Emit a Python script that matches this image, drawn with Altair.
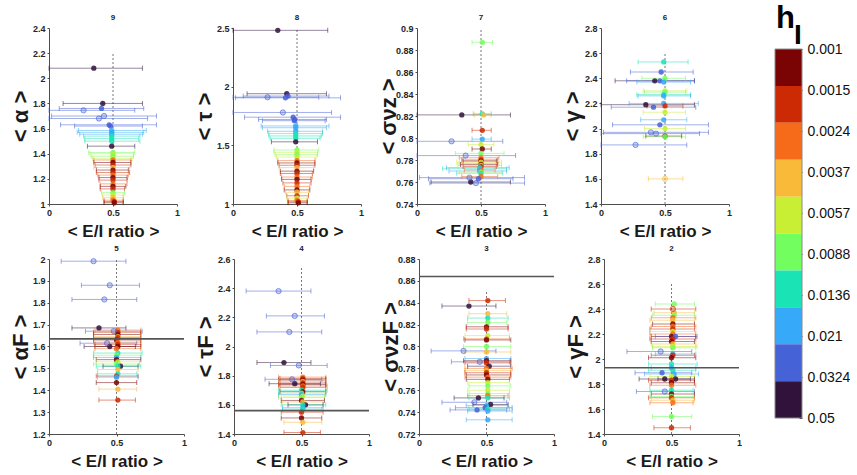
import json
import altair as alt
import pandas as pd

FONT = "Liberation Sans"

H_LABELS = ["0.001", "0.0015", "0.0024", "0.0037", "0.0057",
            "0.0088", "0.0136", "0.021", "0.0324", "0.05"]
H_COLORS = ["#7a0403", "#cb2a04", "#f66b19", "#faba39", "#c8ef34",
            "#72fe5e", "#1ae4b6", "#36aaf9", "#4662d7", "#30123b"]

# rows: (y value, mean E/I ratio, lower E/I, upper E/I, h_I index, open marker)
P9 = [
    (2.08, 0.35, 0.00, 0.73, 9, 0), (1.80, 0.42, 0.11, 0.73, 9, 0),
    (1.76, 0.41, 0.08, 0.74, 8, 0), (1.745, 0.27, 0.00, 0.67, 8, 1),
    (1.70, 0.43, 0.02, 0.84, 8, 1), (1.68, 0.39, 0.00, 0.77, 8, 1),
    (1.63, 0.47, 0.09, 0.84, 8, 0), (1.62, 0.48, 0.20, 0.73, 8, 0),
    (1.585, 0.49, 0.23, 0.76, 7, 0), (1.57, 0.49, 0.22, 0.74, 7, 0),
    (1.555, 0.49, 0.24, 0.73, 7, 0), (1.54, 0.49, 0.27, 0.71, 6, 0),
    (1.52, 0.49, 0.28, 0.70, 6, 0), (1.50, 0.49, 0.28, 0.71, 6, 0),
    (1.46, 0.49, 0.30, 0.67, 9, 0), (1.41, 0.50, 0.31, 0.67, 5, 0),
    (1.40, 0.50, 0.32, 0.66, 4, 0), (1.38, 0.50, 0.33, 0.66, 5, 0),
    (1.36, 0.50, 0.34, 0.65, 4, 0), (1.35, 0.50, 0.35, 0.64, 2, 0),
    (1.33, 0.50, 0.35, 0.64, 0, 0), (1.31, 0.50, 0.36, 0.64, 1, 0),
    (1.29, 0.50, 0.35, 0.63, 3, 0), (1.27, 0.50, 0.37, 0.62, 0, 0),
    (1.25, 0.50, 0.37, 0.63, 1, 0), (1.23, 0.50, 0.38, 0.62, 2, 0),
    (1.21, 0.50, 0.39, 0.61, 0, 0), (1.19, 0.50, 0.39, 0.61, 1, 0),
    (1.16, 0.50, 0.40, 0.61, 2, 0), (1.14, 0.50, 0.40, 0.60, 0, 0),
    (1.12, 0.50, 0.40, 0.59, 1, 0), (1.09, 0.50, 0.41, 0.59, 5, 0),
    (1.07, 0.50, 0.42, 0.58, 4, 0), (1.05, 0.50, 0.42, 0.58, 3, 0),
    (1.03, 0.50, 0.43, 0.58, 2, 0), (1.02, 0.51, 0.43, 0.58, 1, 0),
    (1.01, 0.51, 0.43, 0.58, 0, 0),
]
P8 = [
    (2.48, 0.35, 0.00, 0.74, 9, 0), (1.94, 0.42, 0.11, 0.73, 9, 0),
    (1.92, 0.43, 0.08, 0.75, 8, 0), (1.91, 0.27, 0.00, 0.67, 8, 1),
    (1.905, 0.41, 0.02, 0.84, 8, 0), (1.78, 0.39, 0.00, 0.77, 8, 1),
    (1.74, 0.47, 0.09, 0.84, 8, 0), (1.72, 0.48, 0.20, 0.73, 8, 0),
    (1.71, 0.48, 0.23, 0.72, 8, 0), (1.665, 0.49, 0.22, 0.75, 7, 0),
    (1.65, 0.49, 0.23, 0.73, 7, 0), (1.62, 0.49, 0.27, 0.70, 7, 0),
    (1.60, 0.49, 0.28, 0.70, 6, 0), (1.58, 0.49, 0.28, 0.69, 6, 0),
    (1.56, 0.49, 0.29, 0.68, 6, 0), (1.53, 0.49, 0.30, 0.66, 9, 0),
    (1.46, 0.50, 0.32, 0.67, 5, 0), (1.44, 0.50, 0.32, 0.66, 4, 0),
    (1.42, 0.50, 0.33, 0.66, 5, 0), (1.40, 0.50, 0.34, 0.65, 4, 0),
    (1.37, 0.50, 0.35, 0.64, 2, 0), (1.35, 0.50, 0.35, 0.64, 0, 0),
    (1.33, 0.50, 0.36, 0.64, 1, 0), (1.31, 0.50, 0.36, 0.63, 3, 0),
    (1.28, 0.50, 0.37, 0.63, 0, 0), (1.26, 0.50, 0.37, 0.62, 1, 0),
    (1.23, 0.50, 0.38, 0.62, 2, 0), (1.21, 0.50, 0.38, 0.61, 0, 0),
    (1.18, 0.50, 0.39, 0.61, 1, 0), (1.15, 0.50, 0.40, 0.60, 2, 0),
    (1.12, 0.50, 0.40, 0.60, 0, 0), (1.10, 0.50, 0.41, 0.59, 3, 0),
    (1.07, 0.50, 0.42, 0.59, 1, 0), (1.05, 0.50, 0.42, 0.58, 4, 0),
    (1.03, 0.50, 0.43, 0.58, 2, 0), (1.02, 0.51, 0.43, 0.58, 1, 0),
    (1.01, 0.51, 0.43, 0.58, 0, 0),
]
P7 = [
    (0.887, 0.51, 0.43, 0.59, 5, 0), (0.822, 0.51, 0.44, 0.58, 6, 0),
    (0.821, 0.35, 0.00, 0.73, 9, 0), (0.821, 0.52, 0.45, 0.58, 3, 0),
    (0.807, 0.51, 0.43, 0.58, 1, 0), (0.799, 0.51, 0.43, 0.58, 7, 0),
    (0.797, 0.27, 0.00, 0.67, 8, 1), (0.794, 0.50, 0.40, 0.60, 4, 0),
    (0.790, 0.51, 0.43, 0.58, 0, 0), (0.786, 0.50, 0.30, 0.68, 5, 0),
    (0.784, 0.38, 0.00, 0.77, 8, 1), (0.782, 0.50, 0.33, 0.64, 2, 0),
    (0.780, 0.50, 0.35, 0.63, 1, 0), (0.779, 0.50, 0.36, 0.62, 0, 0),
    (0.778, 0.50, 0.31, 0.66, 4, 0), (0.777, 0.50, 0.33, 0.64, 3, 0),
    (0.776, 0.50, 0.34, 0.63, 0, 0), (0.775, 0.50, 0.32, 0.66, 5, 0),
    (0.774, 0.50, 0.36, 0.62, 1, 0), (0.773, 0.49, 0.23, 0.72, 7, 0),
    (0.772, 0.49, 0.20, 0.70, 6, 0), (0.771, 0.50, 0.37, 0.61, 2, 0),
    (0.770, 0.49, 0.25, 0.70, 7, 0), (0.769, 0.50, 0.33, 0.66, 4, 0),
    (0.768, 0.50, 0.31, 0.67, 6, 0), (0.765, 0.50, 0.35, 0.63, 2, 0),
    (0.764, 0.41, 0.02, 0.84, 8, 1), (0.763, 0.48, 0.09, 0.75, 8, 0),
    (0.760, 0.42, 0.11, 0.73, 9, 0), (0.759, 0.46, 0.10, 0.84, 8, 1),
]
P6 = [
    (2.53, 0.49, 0.29, 0.68, 6, 0), (2.45, 0.47, 0.23, 0.72, 8, 0),
    (2.40, 0.50, 0.32, 0.66, 5, 0), (2.38, 0.42, 0.11, 0.73, 9, 0),
    (2.38, 0.46, 0.20, 0.73, 8, 0), (2.37, 0.49, 0.28, 0.70, 7, 0),
    (2.30, 0.50, 0.33, 0.67, 4, 0), (2.29, 0.50, 0.34, 0.66, 5, 0),
    (2.27, 0.49, 0.28, 0.70, 6, 0), (2.26, 0.49, 0.29, 0.70, 7, 0),
    (2.20, 0.49, 0.22, 0.76, 7, 0), (2.19, 0.35, 0.00, 0.73, 9, 0),
    (2.18, 0.50, 0.36, 0.64, 1, 0), (2.17, 0.41, 0.08, 0.74, 8, 0),
    (2.13, 0.50, 0.33, 0.66, 4, 0), (2.07, 0.49, 0.31, 0.67, 7, 0),
    (2.03, 0.46, 0.09, 0.84, 8, 0), (2.00, 0.50, 0.34, 0.66, 4, 0),
    (1.97, 0.39, 0.02, 0.84, 8, 1), (1.96, 0.43, 0.00, 0.77, 8, 1),
    (1.94, 0.50, 0.35, 0.63, 0, 0), (1.935, 0.50, 0.33, 0.66, 5, 0),
    (1.87, 0.27, 0.00, 0.67, 8, 1), (1.60, 0.50, 0.37, 0.64, 3, 1),
]
P5 = [
    (1.99, 0.33, 0.09, 0.57, 8, 1), (1.88, 0.45, 0.24, 0.67, 8, 1),
    (1.815, 0.41, 0.17, 0.65, 8, 1), (1.685, 0.37, 0.17, 0.57, 9, 0),
    (1.67, 0.48, 0.27, 0.69, 8, 1), (1.675, 0.51, 0.34, 0.68, 2, 0),
    (1.665, 0.51, 0.33, 0.68, 1, 0), (1.655, 0.51, 0.33, 0.68, 0, 0),
    (1.645, 0.51, 0.34, 0.68, 3, 0), (1.64, 0.51, 0.33, 0.68, 1, 0),
    (1.63, 0.50, 0.33, 0.68, 0, 0), (1.62, 0.51, 0.33, 0.68, 2, 0),
    (1.615, 0.43, 0.23, 0.65, 8, 1), (1.61, 0.51, 0.34, 0.68, 1, 0),
    (1.60, 0.45, 0.26, 0.64, 9, 0), (1.60, 0.51, 0.34, 0.68, 0, 0),
    (1.59, 0.50, 0.34, 0.68, 2, 0), (1.57, 0.51, 0.33, 0.69, 6, 0),
    (1.56, 0.50, 0.33, 0.68, 5, 0), (1.55, 0.50, 0.33, 0.68, 7, 0),
    (1.54, 0.50, 0.35, 0.68, 0, 0), (1.53, 0.51, 0.35, 0.67, 4, 0),
    (1.52, 0.50, 0.33, 0.67, 5, 0), (1.51, 0.53, 0.40, 0.66, 9, 0),
    (1.51, 0.51, 0.35, 0.68, 6, 0), (1.495, 0.51, 0.36, 0.66, 3, 0),
    (1.475, 0.51, 0.36, 0.65, 6, 0), (1.465, 0.50, 0.35, 0.66, 1, 0),
    (1.46, 0.50, 0.36, 0.66, 7, 0), (1.435, 0.50, 0.35, 0.65, 0, 0),
    (1.405, 0.51, 0.37, 0.65, 3, 0), (1.355, 0.51, 0.37, 0.64, 1, 0),
]
P4 = [
    (2.38, 0.33, 0.09, 0.57, 8, 1), (2.21, 0.45, 0.24, 0.67, 8, 1),
    (2.10, 0.41, 0.17, 0.65, 8, 1), (1.89, 0.37, 0.17, 0.57, 9, 0),
    (1.87, 0.48, 0.27, 0.69, 8, 1), (1.79, 0.51, 0.33, 0.68, 2, 0),
    (1.775, 0.43, 0.23, 0.65, 8, 1), (1.78, 0.51, 0.34, 0.68, 1, 0),
    (1.77, 0.51, 0.33, 0.68, 0, 0), (1.76, 0.51, 0.33, 0.68, 3, 0),
    (1.75, 0.51, 0.34, 0.68, 1, 0), (1.745, 0.45, 0.26, 0.64, 9, 0),
    (1.74, 0.51, 0.33, 0.68, 0, 0), (1.73, 0.51, 0.33, 0.69, 2, 0),
    (1.72, 0.51, 0.34, 0.68, 1, 0), (1.70, 0.50, 0.33, 0.69, 6, 0),
    (1.69, 0.51, 0.34, 0.68, 0, 0), (1.68, 0.50, 0.33, 0.68, 5, 0),
    (1.67, 0.50, 0.33, 0.68, 7, 0), (1.66, 0.51, 0.35, 0.67, 4, 0),
    (1.65, 0.50, 0.33, 0.67, 5, 0), (1.63, 0.50, 0.35, 0.67, 0, 0),
    (1.62, 0.51, 0.36, 0.66, 3, 0), (1.60, 0.53, 0.40, 0.66, 9, 0),
    (1.60, 0.51, 0.35, 0.68, 6, 0), (1.58, 0.51, 0.36, 0.66, 7, 0),
    (1.57, 0.51, 0.36, 0.65, 6, 0), (1.55, 0.50, 0.35, 0.66, 1, 0),
    (1.51, 0.50, 0.35, 0.65, 0, 0), (1.48, 0.51, 0.37, 0.65, 3, 0),
    (1.41, 0.51, 0.37, 0.64, 1, 0),
]
P3 = [
    (0.842, 0.51, 0.37, 0.64, 1, 0), (0.837, 0.37, 0.17, 0.57, 9, 0),
    (0.830, 0.51, 0.37, 0.65, 3, 0), (0.826, 0.51, 0.36, 0.66, 6, 0),
    (0.822, 0.51, 0.36, 0.65, 5, 0), (0.818, 0.50, 0.35, 0.66, 0, 0),
    (0.816, 0.50, 0.35, 0.66, 1, 0), (0.810, 0.51, 0.34, 0.67, 4, 0),
    (0.807, 0.50, 0.33, 0.67, 2, 0), (0.806, 0.50, 0.34, 0.68, 0, 0),
    (0.800, 0.50, 0.33, 0.68, 5, 0), (0.796, 0.33, 0.09, 0.57, 8, 1),
    (0.795, 0.50, 0.34, 0.68, 3, 0), (0.789, 0.50, 0.34, 0.68, 7, 0),
    (0.786, 0.45, 0.24, 0.67, 8, 1), (0.787, 0.50, 0.33, 0.68, 0, 0),
    (0.785, 0.50, 0.34, 0.68, 1, 0), (0.782, 0.52, 0.36, 0.68, 9, 0),
    (0.780, 0.50, 0.34, 0.69, 2, 0), (0.778, 0.50, 0.34, 0.68, 3, 0),
    (0.776, 0.50, 0.34, 0.68, 1, 0), (0.774, 0.50, 0.35, 0.68, 0, 0),
    (0.772, 0.51, 0.34, 0.68, 2, 0), (0.770, 0.51, 0.35, 0.67, 0, 0),
    (0.767, 0.51, 0.36, 0.67, 4, 0), (0.764, 0.51, 0.37, 0.68, 5, 0),
    (0.760, 0.51, 0.36, 0.67, 4, 0), (0.757, 0.51, 0.37, 0.67, 5, 0),
    (0.755, 0.51, 0.36, 0.66, 2, 0), (0.753, 0.44, 0.26, 0.63, 9, 0),
    (0.753, 0.51, 0.37, 0.67, 6, 0), (0.749, 0.41, 0.17, 0.65, 8, 1),
    (0.747, 0.53, 0.40, 0.66, 9, 0), (0.746, 0.50, 0.35, 0.66, 7, 0),
    (0.744, 0.49, 0.27, 0.69, 8, 0), (0.743, 0.51, 0.37, 0.67, 6, 0),
    (0.742, 0.43, 0.23, 0.65, 8, 0), (0.741, 0.51, 0.36, 0.69, 7, 0),
    (0.733, 0.51, 0.35, 0.69, 7, 0),
]
P2 = [
    (2.44, 0.52, 0.38, 0.67, 5, 0), (2.40, 0.51, 0.35, 0.68, 1, 1),
    (2.37, 0.52, 0.37, 0.67, 3, 0), (2.35, 0.52, 0.36, 0.67, 5, 0),
    (2.33, 0.51, 0.35, 0.68, 2, 0), (2.31, 0.51, 0.34, 0.67, 3, 0),
    (2.28, 0.51, 0.36, 0.67, 0, 0), (2.26, 0.51, 0.35, 0.68, 2, 0),
    (2.24, 0.51, 0.34, 0.67, 1, 0), (2.22, 0.51, 0.34, 0.68, 4, 0),
    (2.20, 0.51, 0.34, 0.68, 2, 0), (2.18, 0.50, 0.35, 0.68, 0, 0),
    (2.18, 0.53, 0.38, 0.69, 8, 0), (2.16, 0.51, 0.34, 0.68, 1, 0),
    (2.14, 0.50, 0.35, 0.67, 0, 0), (2.12, 0.51, 0.35, 0.68, 3, 0),
    (2.10, 0.51, 0.36, 0.69, 4, 0), (2.09, 0.51, 0.36, 0.68, 5, 0),
    (2.06, 0.42, 0.17, 0.65, 8, 1), (2.04, 0.51, 0.38, 0.68, 7, 0),
    (2.03, 0.51, 0.35, 0.67, 1, 0), (2.01, 0.50, 0.33, 0.68, 0, 0),
    (1.96, 0.50, 0.33, 0.69, 6, 0), (1.93, 0.50, 0.35, 0.68, 7, 0),
    (1.91, 0.51, 0.33, 0.68, 6, 0), (1.89, 0.43, 0.23, 0.65, 8, 0),
    (1.88, 0.52, 0.30, 0.70, 7, 0), (1.86, 0.50, 0.34, 0.67, 4, 0),
    (1.84, 0.45, 0.26, 0.64, 9, 0), (1.84, 0.53, 0.40, 0.67, 9, 0),
    (1.83, 0.50, 0.33, 0.67, 1, 0), (1.81, 0.50, 0.35, 0.67, 0, 0),
    (1.79, 0.50, 0.34, 0.68, 2, 0), (1.75, 0.50, 0.34, 0.66, 6, 0),
    (1.74, 0.45, 0.24, 0.67, 8, 1), (1.72, 0.50, 0.35, 0.67, 0, 0),
    (1.70, 0.50, 0.34, 0.66, 5, 0), (1.69, 0.50, 0.33, 0.67, 1, 0),
    (1.67, 0.51, 0.35, 0.67, 3, 0), (1.65, 0.51, 0.34, 0.66, 2, 0),
    (1.54, 0.50, 0.36, 0.65, 5, 0), (1.45, 0.50, 0.37, 0.64, 1, 0),
]

PANEL_DATA = [P9, P8, P7, P6, P5, P4, P3, P2]
PANEL_NAMES = ["9", "8", "7", "6", "5", "4", "3", "2"]
Y_TITLES = ["< α >", "< τ >", "< σνz >", "< γ >",
            "< αF >", "< τF >", "< σνzF >", "< γF >"]
Y_DOMAINS = [[1, 2.4], [1, 2.5], [0.74, 0.9], [1.4, 2.8],
             [1.2, 2.0], [1.4, 2.6], [0.72, 0.88], [1.4, 2.8]]
Y_TICKS = [
    [1, 1.2, 1.4, 1.6, 1.8, 2, 2.2, 2.4],
    [1, 1.5, 2, 2.5],
    [0.74, 0.76, 0.78, 0.8, 0.82, 0.84, 0.86, 0.88, 0.9],
    [1.4, 1.6, 1.8, 2, 2.2, 2.4, 2.6, 2.8],
    [1.2, 1.3, 1.4, 1.5, 1.6, 1.7, 1.8, 1.9, 2],
    [1.4, 1.6, 1.8, 2, 2.2, 2.4, 2.6],
    [0.72, 0.74, 0.76, 0.78, 0.8, 0.82, 0.84, 0.86, 0.88],
    [1.4, 1.6, 1.8, 2, 2.2, 2.4, 2.6, 2.8],
]
X_TICKS = [0, 0.5, 1]
V_TOPS = [2.2, 2.5, 0.9, 2.6, 2.0, 2.55, 0.85, 2.6]
H_REFS = [None, None, None, None, 1.635, 1.56, 0.864, 1.93]

COLOR = alt.Color("hl:N", scale=alt.Scale(domain=H_LABELS, range=H_COLORS), legend=None)
STROKE = alt.Stroke("hl:N", scale=alt.Scale(domain=H_LABELS, range=H_COLORS), legend=None)


def make_panel(rows, name, ytitle, ydom, yticks, vtop, href, width, height, title_x):
    df = pd.DataFrame(rows, columns=["y", "x", "lo", "hi", "h", "open"])
    df["hl"] = [H_LABELS[i] for i in df["h"]]
    xs = alt.Scale(domain=[0, 1], nice=False, zero=False)
    ys = alt.Scale(domain=ydom, nice=False, zero=False)
    xax = alt.Axis(values=X_TICKS, format="~g", title="< E/I ratio >", titleFontSize=17,
                   titleY=27, titleBaseline="middle", labelFlush=False)
    yax = alt.Axis(values=yticks, format="~g", title=ytitle, titleFontSize=22,
                   titleX=title_x, titleBaseline="middle", labelFlush=False)

    def X(f):
        return alt.X(f, type="quantitative", scale=xs, axis=xax)

    def Y(f):
        return alt.Y(f, type="quantitative", scale=ys, axis=yax)

    base = alt.Chart(df)
    guide = alt.Chart(pd.DataFrame({"gx": [0.5], "gy0": [ydom[0]], "gy1": [vtop]})).mark_rule(
        strokeDash=[2, 2], color="#555555", strokeWidth=0.8
    ).encode(x=X("gx"), y=Y("gy0"), y2="gy1")
    bars = base.mark_rule(strokeWidth=1, opacity=0.5).encode(
        x=X("lo"), x2="hi", y=Y("y"), color=COLOR)
    caps = base.transform_fold(["lo", "hi"], as_=["side", "ex"]).mark_tick(
        orient="vertical", size=5, thickness=1, opacity=0.55
    ).encode(x=X("ex"), y=Y("y"), color=COLOR)
    dots = base.transform_filter("datum.open == 0").mark_circle(size=28, opacity=0.85).encode(
        x=X("x"), y=Y("y"), color=COLOR)
    rings = base.transform_filter("datum.open == 1").mark_circle(
        size=28, fillOpacity=0.3, strokeOpacity=0.6, strokeWidth=1
    ).encode(x=X("x"), y=Y("y"), color=COLOR, stroke=STROKE)
    layers = [guide, bars, caps, dots, rings]
    if href is not None:
        ref = alt.Chart(pd.DataFrame({"ry": [href], "rx0": [0], "rx1": [1]})).mark_rule(
            color="#555555", strokeWidth=1.6
        ).encode(x=X("rx0"), x2="rx1", y=Y("ry"))
        layers.append(ref)
    return alt.layer(*layers).properties(
        width=width, height=height,
        title=alt.TitleParams(name, fontSize=8, fontWeight="bold", offset=2, frame="group",
                              anchor="middle", font=FONT, color="#222222"),
    )


panels = []
for k in range(8):
    w = 128 if k < 4 else 135
    h = 176 if k < 4 else 175
    panels.append(make_panel(PANEL_DATA[k], PANEL_NAMES[k], Y_TITLES[k], Y_DOMAINS[k],
                             Y_TICKS[k], V_TOPS[k], H_REFS[k], w, h, -29))

# colour bar (view spans the height of both panel rows; the bar sits inside it)
cb_df = pd.DataFrame({"hl": H_LABELS, "i0": list(range(10)), "i1": list(range(1, 11))})
cb_df["x0"] = 0
cb_df["x1"] = 1
cys = alt.Scale(domain=[-0.57, 10.46], reverse=True, nice=False, zero=False)
cxs = alt.Scale(domain=[0, 1], nice=False, zero=False)
label_expr = json.dumps(H_LABELS) + "[round(datum.value * 0.9)]"
cax = alt.Axis(orient="right", values=[k * 10 / 9 for k in range(10)], labelExpr=label_expr,
               domain=False, ticks=True, tickSize=3, tickColor="#333333", offset=-3,
               labelFontSize=14, labelFontWeight="normal", labelColor="#111111",
               labelPadding=5, labelFlush=False, labelOverlap=False, title=None,
               labelBaseline="middle", labelFont=FONT)
blocks = alt.Chart(cb_df).mark_rect().encode(
    x=alt.X("x0:Q", scale=cxs, axis=None), x2="x1:Q",
    y=alt.Y("i0:Q", scale=cys, axis=cax), y2="i1:Q", color=COLOR)
outline = alt.Chart(pd.DataFrame({"a": [0], "b": [10], "c": [0], "d": [1]})).mark_rect(
    fill=None, stroke="#8a8a8a", strokeWidth=1
).encode(x=alt.X("c:Q", scale=cxs, axis=None), x2="d:Q",
         y=alt.Y("a:Q", scale=cys, axis=cax), y2="b:Q")
h_text = alt.Chart(pd.DataFrame({"t": ["h"]})).mark_text(
    fontSize=31, fontWeight="bold", font=FONT, align="left", baseline="alphabetic", color="#000000"
).encode(text="t:N", x=alt.value(1), y=alt.value(0))
i_text = alt.Chart(pd.DataFrame({"t": ["I"]})).mark_text(
    fontSize=28, fontWeight="bold", font=FONT, align="left", baseline="alphabetic", color="#000000"
).encode(text="t:N", x=alt.value(19), y=alt.value(16))
cbar = alt.layer(blocks, outline, h_text, i_text).properties(width=27, height=407)

top = alt.hconcat(*panels[:4], spacing=13)
bottom = alt.hconcat(*panels[4:], spacing=7)
left = alt.vconcat(top, bottom, spacing=6)
chart = alt.hconcat(left, cbar, spacing=32).properties(
    padding={"left": 9, "top": 3, "right": 0, "bottom": 0},
    background="white",
).configure_view(stroke=None).configure_axis(
    labelFont=FONT, labelFontWeight="bold", labelFontSize=9, labelColor="#262626",
    titleFont=FONT, titleFontWeight="bold", titleColor="#1a1a1a",
    domainColor="#4d4d4d", tickColor="#4d4d4d", tickSize=2, grid=False, labelPadding=2,
).configure_title(font=FONT)

chart.save("out.html", embed_options={"renderer": "svg", "actions": False})
